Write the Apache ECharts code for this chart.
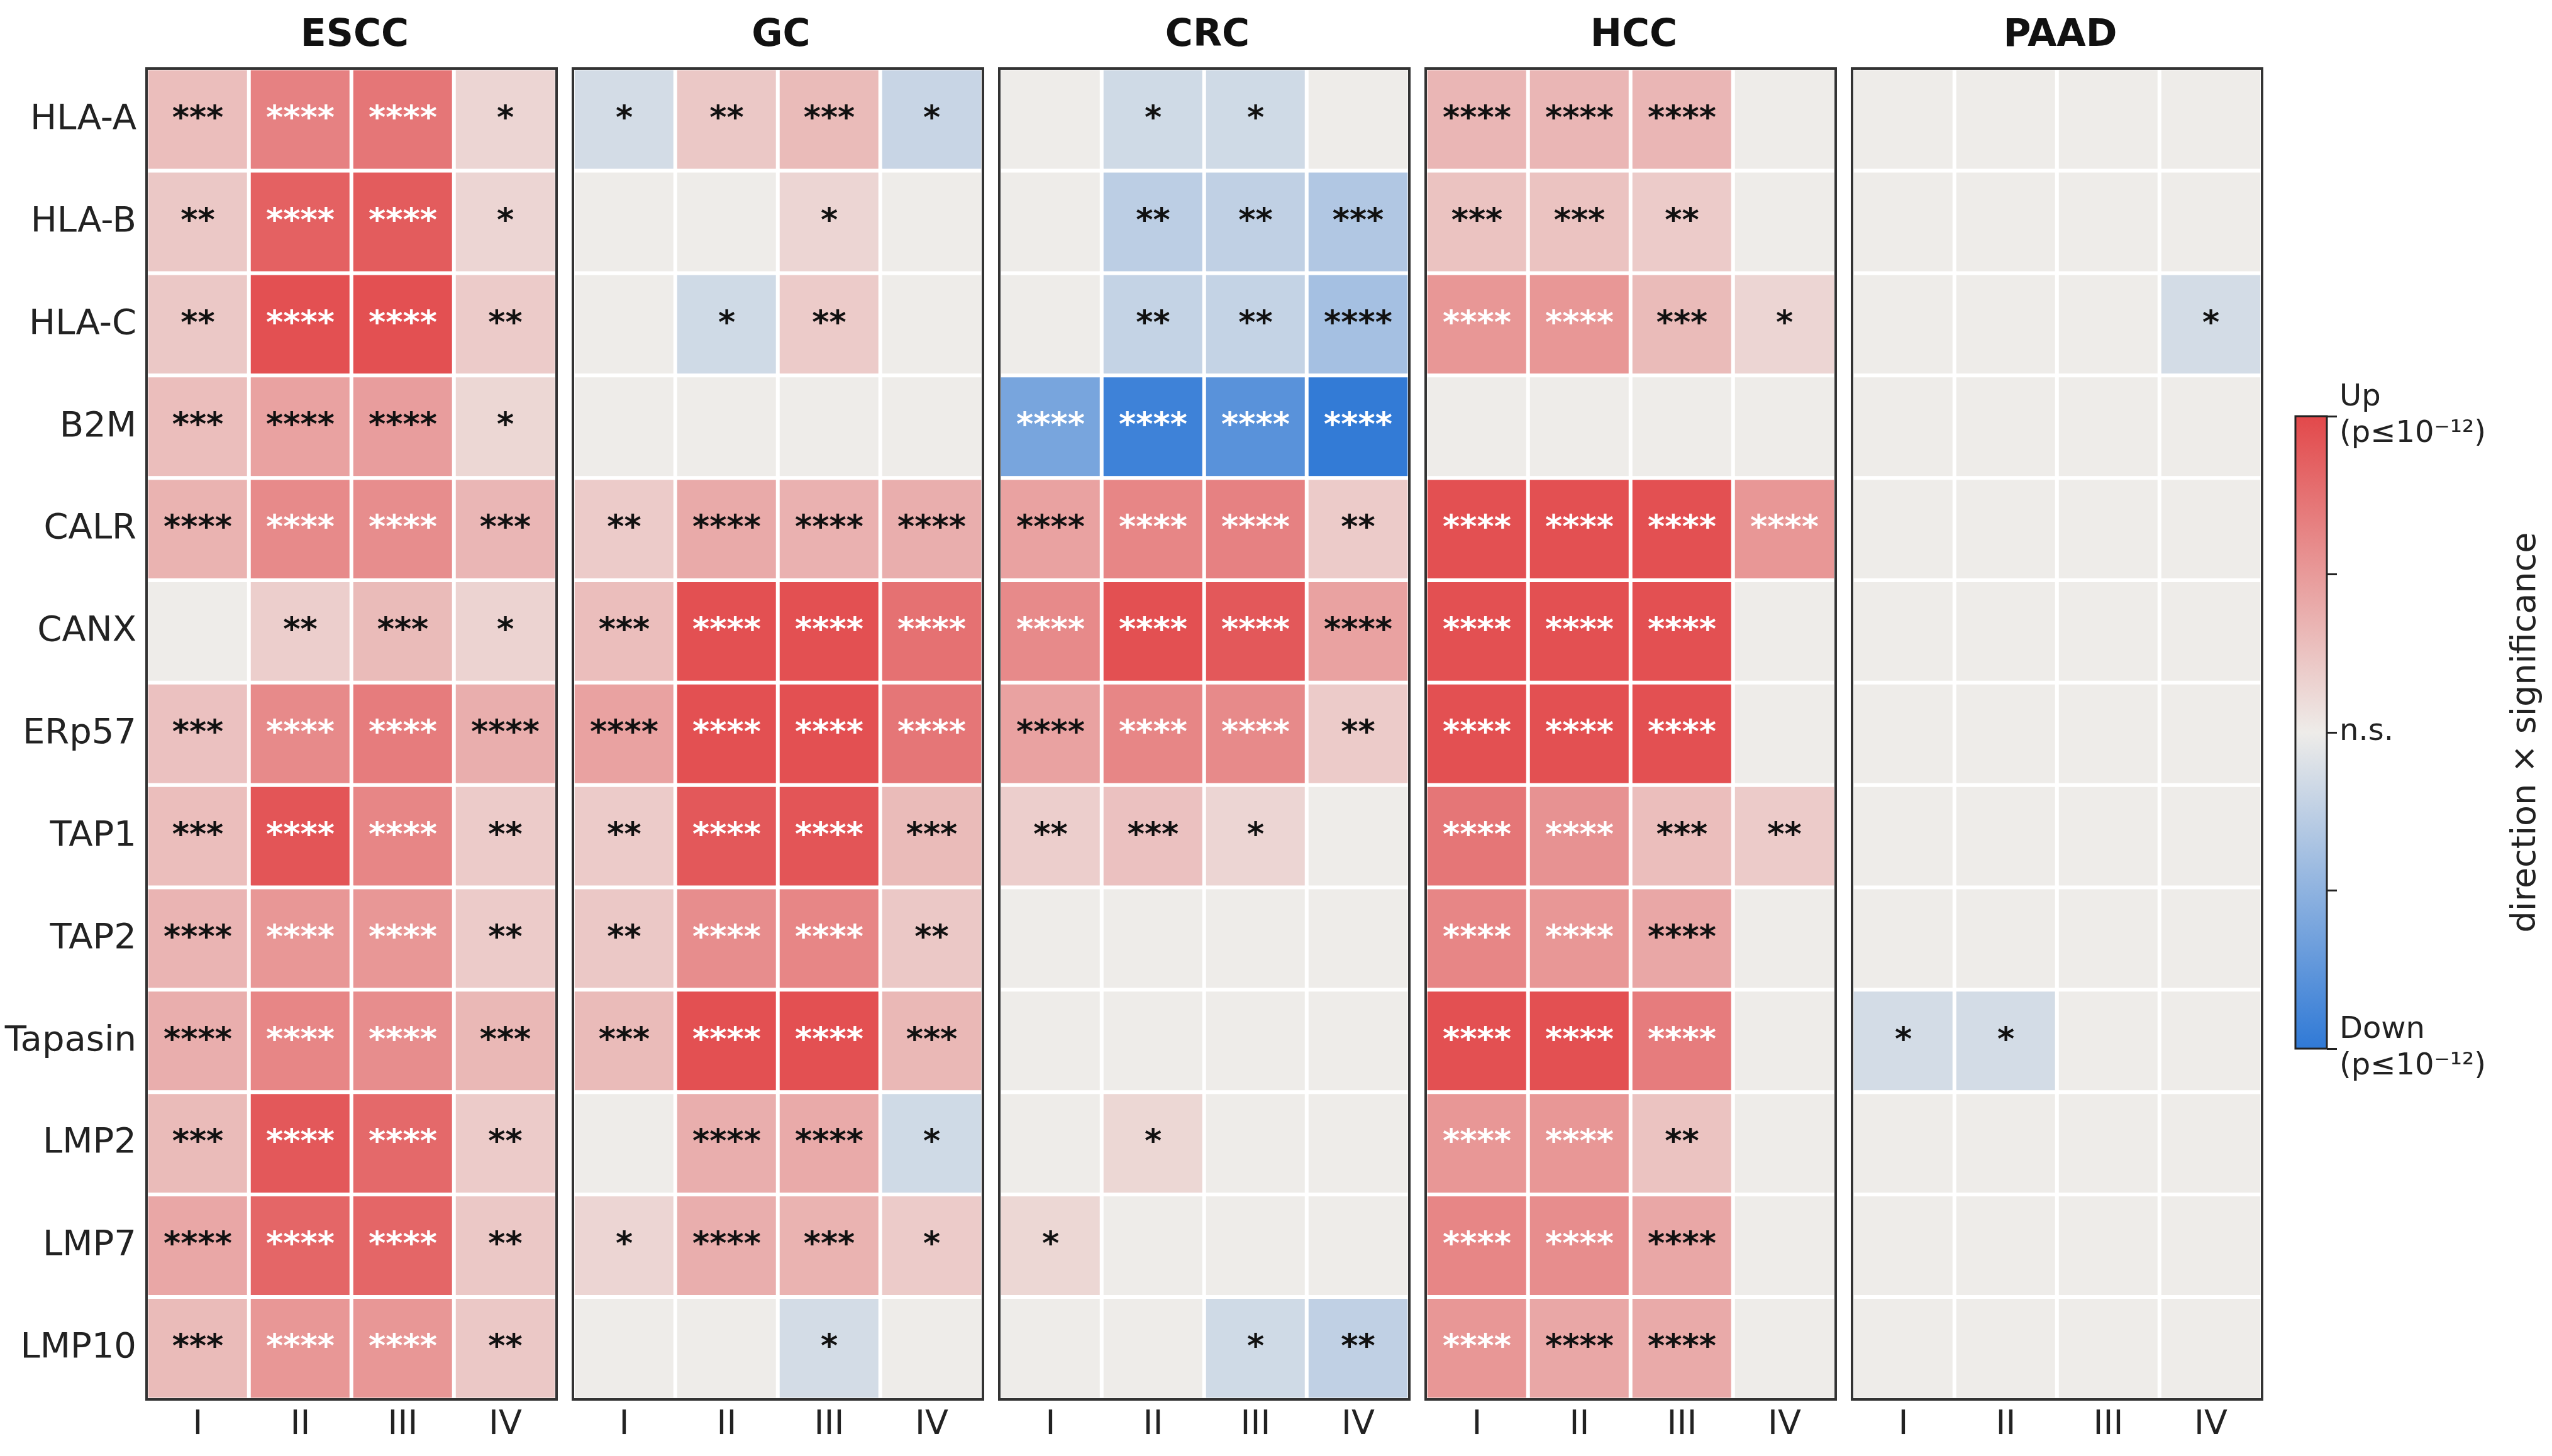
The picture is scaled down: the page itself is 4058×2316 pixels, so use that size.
<!DOCTYPE html>
<html>
<head>
<meta charset="utf-8">
<script src="https://cdn.jsdelivr.net/npm/echarts@6/dist/echarts.min.js"></script>
<style>
  html, body { margin: 0; padding: 0; background: #ffffff; }
  #chart { width: 4058px; height: 2316px; }
</style>
</head>
<body>
<div id="chart"></div>
<script>
// ---------------- DATA ----------------
const genes = ['HLA-A', 'HLA-B', 'HLA-C', 'B2M', 'CALR', 'CANX', 'ERp57', 'TAP1', 'TAP2', 'Tapasin', 'LMP2', 'LMP7', 'LMP10'];
const stages = ['I', 'II', 'III', 'IV'];
const cancers = ['ESCC', 'GC', 'CRC', 'HCC', 'PAAD'];

// direction x significance (scaled -1 .. 1), rows = genes, cols = stages
const esccValues = [
  [0.28, 0.65, 0.72, 0.14],
  [0.22, 0.85, 0.88, 0.14],
  [0.22, 0.95, 0.95, 0.20],
  [0.28, 0.45, 0.48, 0.13],
  [0.35, 0.60, 0.58, 0.33],
  [0.00, 0.18, 0.30, 0.15],
  [0.26, 0.60, 0.68, 0.38],
  [0.28, 0.92, 0.62, 0.20],
  [0.34, 0.52, 0.52, 0.20],
  [0.38, 0.62, 0.58, 0.32],
  [0.30, 0.90, 0.80, 0.20],
  [0.42, 0.82, 0.82, 0.22],
  [0.30, 0.52, 0.52, 0.22]
];
const esccStars = [
  [3, 4, 4, 1], [2, 4, 4, 1], [2, 4, 4, 2], [3, 4, 4, 1], [4, 4, 4, 3], [0, 2, 3, 1], [3, 4, 4, 4],
  [3, 4, 4, 2], [4, 4, 4, 2], [4, 4, 4, 3], [3, 4, 4, 2], [4, 4, 4, 2], [3, 4, 4, 2]
];

const gcValues = [
  [-0.14, 0.22, 0.30, -0.20],
  [0.00, 0.00, 0.14, 0.00],
  [0.00, -0.16, 0.20, 0.00],
  [0.00, 0.00, 0.00, 0.00],
  [0.20, 0.40, 0.36, 0.38],
  [0.28, 0.95, 0.95, 0.75],
  [0.45, 0.95, 0.95, 0.72],
  [0.20, 0.90, 0.92, 0.30],
  [0.22, 0.58, 0.62, 0.22],
  [0.30, 0.95, 0.95, 0.32],
  [0.00, 0.38, 0.40, -0.16],
  [0.14, 0.38, 0.35, 0.20],
  [0.00, 0.00, -0.14, 0.00]
];
const gcStars = [
  [1, 2, 3, 1], [0, 0, 1, 0], [0, 1, 2, 0], [0, 0, 0, 0], [2, 4, 4, 4], [3, 4, 4, 4], [4, 4, 4, 4],
  [2, 4, 4, 3], [2, 4, 4, 2], [3, 4, 4, 3], [0, 4, 4, 1], [1, 4, 3, 1], [0, 0, 1, 0]
];

const crcValues = [
  [0.00, -0.16, -0.16, 0.00],
  [0.00, -0.26, -0.24, -0.32],
  [0.00, -0.22, -0.22, -0.38],
  [-0.62, -0.92, -0.78, -0.98],
  [0.45, 0.62, 0.65, 0.20],
  [0.60, 0.95, 0.90, 0.45],
  [0.45, 0.62, 0.60, 0.20],
  [0.18, 0.26, 0.14, 0.00],
  [0.00, 0.00, 0.00, 0.00],
  [0.00, 0.00, 0.00, 0.00],
  [0.00, 0.13, 0.00, 0.00],
  [0.13, 0.00, 0.00, 0.00],
  [0.00, 0.00, -0.16, -0.24]
];
const crcStars = [
  [0, 1, 1, 0], [0, 2, 2, 3], [0, 2, 2, 4], [4, 4, 4, 4], [4, 4, 4, 2], [4, 4, 4, 4], [4, 4, 4, 2],
  [2, 3, 1, 0], [0, 0, 0, 0], [0, 0, 0, 0], [0, 1, 0, 0], [1, 0, 0, 0], [0, 0, 1, 2]
];

const hccValues = [
  [0.33, 0.33, 0.33, 0.00],
  [0.25, 0.25, 0.20, 0.00],
  [0.52, 0.52, 0.30, 0.14],
  [0.00, 0.00, 0.00, 0.00],
  [0.95, 0.95, 0.95, 0.52],
  [0.95, 0.95, 0.95, 0.00],
  [0.95, 0.95, 0.95, 0.00],
  [0.72, 0.55, 0.28, 0.20],
  [0.62, 0.52, 0.42, 0.00],
  [0.95, 0.95, 0.68, 0.00],
  [0.52, 0.52, 0.25, 0.00],
  [0.62, 0.58, 0.42, 0.00],
  [0.52, 0.42, 0.40, 0.00]
];
const hccStars = [
  [4, 4, 4, 0], [3, 3, 2, 0], [4, 4, 3, 1], [0, 0, 0, 0], [4, 4, 4, 4], [4, 4, 4, 0], [4, 4, 4, 0],
  [4, 4, 3, 2], [4, 4, 4, 0], [4, 4, 4, 0], [4, 4, 2, 0], [4, 4, 4, 0], [4, 4, 4, 0]
];

const paadValues = [
  [0, 0, 0, 0],
  [0, 0, 0, 0],
  [0, 0, 0, -0.14],
  [0, 0, 0, 0],
  [0, 0, 0, 0],
  [0, 0, 0, 0],
  [0, 0, 0, 0],
  [0, 0, 0, 0],
  [0, 0, 0, 0],
  [-0.14, -0.14, 0, 0],
  [0, 0, 0, 0],
  [0, 0, 0, 0],
  [0, 0, 0, 0]
];
const paadStars = [
  [0, 0, 0, 0], [0, 0, 0, 0], [0, 0, 0, 1], [0, 0, 0, 0], [0, 0, 0, 0], [0, 0, 0, 0], [0, 0, 0, 0],
  [0, 0, 0, 0], [0, 0, 0, 0], [1, 1, 0, 0], [0, 0, 0, 0], [0, 0, 0, 0], [0, 0, 0, 0]
];

const colorbarTicks = [-1, -0.5, 0, 0.5, 1];
const colorbarLabels = { '1': 'Up\n(p≤10⁻¹²)', '0': 'n.s.', '-1': 'Down\n(p≤10⁻¹²)' };
const colorbarTitle = 'direction × significance';

// ---------------- LAYOUT / STYLE ----------------
const panelValues = [esccValues, gcValues, crcValues, hccValues, paadValues];
const panelStars = [esccStars, gcStars, crcStars, hccStars, paadStars];

const BLUE = '#2f79d6';
const MID = '#eeece9';
const RED = '#e2484a';

const gridTop = 109, gridHeight = 2117, gridWidth = 652, firstLeft = 233, step = 678;
const FONT = 'DejaVu Sans';

const grids = [], xAxes = [], yAxes = [], series = [], titles = [];

cancers.forEach((name, i) => {
  const left = firstLeft + i * step;
  grids.push({
    left: left, top: gridTop, width: gridWidth, height: gridHeight, z: 10,
    show: true, borderColor: '#333333', borderWidth: 4, backgroundColor: 'transparent'
  });
  xAxes.push({
    type: 'category', data: stages, gridIndex: i, position: 'bottom',
    axisLine: { show: false }, axisTick: { show: false },
    axisLabel: { fontSize: 54, color: '#222', margin: 14, fontFamily: FONT },
    splitLine: { show: false }
  });
  yAxes.push({
    type: 'category', data: genes, gridIndex: i, inverse: true,
    axisLine: { show: false }, axisTick: { show: false },
    axisLabel: { show: i === 0, fontSize: 56, color: '#222', margin: 16, fontFamily: FONT },
    splitLine: { show: false }
  });
  titles.push({
    text: name, left: left + gridWidth / 2, top: 22, textAlign: 'center',
    textStyle: { fontSize: 60, fontWeight: 'bold', color: '#111', fontFamily: FONT }
  });
  const vals = panelValues[i];
  const stars = panelStars[i];
  const data = [];
  genes.forEach((g, r) => {
    stages.forEach((s, c) => {
      const v = vals[r][c];
      data.push({
        value: [c, r, v],
        starCount: stars[r][c],
        label: { color: Math.abs(v) >= 0.5 ? '#ffffff' : '#111111' }
      });
    });
  });
  series.push({
    type: 'heatmap', xAxisIndex: i, yAxisIndex: i, data: data,
    itemStyle: { borderColor: '#ffffff', borderWidth: 6 },
    label: {
      show: true, fontSize: 52, fontWeight: 'bold', fontFamily: FONT,
      formatter: p => '*'.repeat(p.data.starCount)
    },
    emphasis: { disabled: true }
  });
});

// colorbar
const cbIndex = cancers.length;
grids.push({ left: 3650, top: 662, width: 50, height: 1006, show: false });
xAxes.push({ type: 'category', data: [''], gridIndex: cbIndex, show: false });
yAxes.push({
  type: 'value', gridIndex: cbIndex, min: -1, max: 1, interval: 0.5, position: 'right',
  axisLine: { show: false }, splitLine: { show: false },
  axisTick: { show: true, length: 16, lineStyle: { color: '#222', width: 3 } },
  axisLabel: {
    fontSize: 48, color: '#222', margin: 20, lineHeight: 58, fontFamily: FONT,
    formatter: v => colorbarLabels[String(v)] || ''
  },
  name: colorbarTitle, nameLocation: 'middle', nameRotate: 90, nameGap: 290,
  nameTextStyle: { fontSize: 54, color: '#222', fontFamily: FONT }
});
series.push({
  type: 'line', xAxisIndex: cbIndex, yAxisIndex: cbIndex, data: [], silent: true,
  markArea: {
    silent: true,
    itemStyle: {
      color: {
        type: 'linear', x: 0, y: 0, x2: 0, y2: 1,
        colorStops: [{ offset: 0, color: RED }, { offset: 0.5, color: MID }, { offset: 1, color: BLUE }]
      },
      borderColor: '#222', borderWidth: 3
    },
    data: [[{ yAxis: colorbarTicks[colorbarTicks.length - 1] }, { yAxis: colorbarTicks[0] }]]
  }
});

const chart = echarts.init(document.getElementById('chart'), null, { renderer: 'canvas' });
chart.setOption({
  animation: false,
  backgroundColor: '#ffffff',
  textStyle: { fontFamily: FONT },
  title: titles,
  grid: grids,
  xAxis: xAxes,
  yAxis: yAxes,
  visualMap: {
    show: false, type: 'continuous', min: -1, max: 1, dimension: 2,
    seriesIndex: [0, 1, 2, 3, 4],
    inRange: { color: [BLUE, MID, RED] }
  },
  series: series
});
</script>
</body>
</html>
